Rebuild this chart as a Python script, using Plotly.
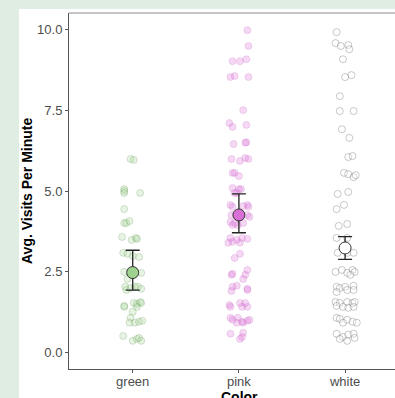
import plotly.graph_objects as go

categories = ["green", "pink", "white"]
fill_colors = ["#9fd28f", "#da70d6", "#ffffff"]

green_y = [5.99, 5.96, 5.06, 5.0, 4.94, 4.94, 4.44, 4.01, 4.01, 4.07, 3.58, 3.49, 3.55, 3.52,
           3.09, 3.06, 2.99, 2.96, 2.5, 2.47, 2.28, 2.04, 1.94, 2.0, 2.04, 2.04, 1.98, 1.45,
           1.42, 1.54, 1.51, 1.57, 1.54, 1.27, 1.42, 1.08, 0.93, 0.93, 0.96, 0.99, 0.52, 0.37,
           0.43, 0.46, 0.37]
green_jit = [-0.02, 0.01, -0.08, -0.08, -0.08, 0.07, -0.08, -0.08, -0.06, -0.03, -0.10, -0.01,
             0.03, 0.04, -0.09, -0.05, 0.00, 0.06, -0.08, 0.08, -0.05, -0.07, -0.06, -0.02, 0.02,
             0.05, 0.08, -0.08, -0.08, 0.01, 0.04, 0.07, 0.08, 0.00, 0.04, -0.02, -0.03, 0.02,
             0.06, 0.09, -0.09, 0.00, 0.04, 0.06, 0.08]

pink_y = [9.97, 9.48, 9.01, 9.01, 9.07, 8.52, 8.55, 8.52, 7.5, 7.10, 6.98, 7.04, 6.45, 6.51,
          6.49, 5.99, 5.93, 6.02, 5.99, 5.56, 5.56, 5.46, 5.09, 5.06, 5.06, 4.94, 4.94,
          4.57, 4.51, 4.57, 4.51, 4.54, 4.26, 4.26, 4.2, 4.04, 4.01, 3.95, 4.01, 3.95,
          3.55, 3.49, 3.55, 3.52, 3.43, 3.40, 3.40, 3.06, 2.93,
          2.41, 2.44, 2.56, 2.28, 2.41, 2.04, 2.07, 1.98, 1.94, 1.91,
          1.48, 1.42, 1.54, 1.42, 1.42, 1.54, 1.08, 1.02, 1.08, 0.96, 0.93, 0.99, 1.02, 0.93,
          0.59, 0.62, 0.49, 0.43]
pink_jit = [0.08, 0.09, -0.06, 0.01, 0.07, -0.08, -0.04, 0.09, 0.04, -0.09, -0.06, 0.07, -0.05, 0.07,
            0.06, -0.07, 0.01, 0.06, 0.09, -0.06, -0.04, 0.00, -0.06, 0.00, 0.02, -0.04, -0.02,
            -0.08, -0.06, 0.08, 0.09, 0.04, -0.07, 0.08, 0.10, -0.08, -0.04, -0.01, 0.04, -0.06,
            -0.08, -0.02, 0.03, 0.08, -0.06, 0.01, -0.10, 0.01, -0.04,
            -0.07, -0.06, 0.08, 0.04, 0.06, -0.06, -0.02, 0.08, 0.08, -0.07,
            -0.09, -0.08, 0.01, 0.03, 0.08, 0.06, -0.08, -0.06, -0.01, 0.03, 0.04, 0.08, 0.10, -0.02,
            -0.08, 0.04, 0.03, 0.01]

white_y = [9.91, 9.57, 9.48, 9.51, 9.38, 9.07, 8.52, 8.58, 7.93, 7.47, 7.47, 6.91, 6.64, 6.05,
           6.08, 5.56, 5.52, 5.43, 5.49, 4.91, 4.97, 4.57, 4.44, 3.92, 3.98,
           3.55, 3.55, 3.09, 3.09, 3.09, 2.5, 2.56, 2.47, 2.56, 2.5, 2.41,
           2.04, 2.0, 2.04, 2.07, 1.88, 1.94, 1.94,
           1.57, 1.54, 1.57, 1.54, 1.57, 1.45, 1.42, 1.39, 1.42,
           1.08, 1.05, 1.02, 0.96, 0.93, 0.93,
           0.59, 0.49, 0.56, 0.59, 0.43, 0.37, 0.46]
white_jit = [-0.08, -0.09, -0.04, 0.03, 0.04, -0.02, 0.00, 0.06, -0.05, -0.05, 0.08, -0.03, 0.04, 0.03,
             0.07, -0.01, 0.03, 0.08, 0.10, -0.07, 0.03, -0.01, -0.08, -0.06, 0.02,
             -0.08, 0.02, -0.07, 0.02, 0.08, -0.09, -0.03, 0.02, 0.07, 0.09, 0.05,
             -0.08, -0.05, 0.00, 0.08, -0.08, 0.02, 0.08,
             -0.09, -0.05, 0.02, 0.07, 0.09, -0.08, -0.02, 0.03, 0.08,
             -0.08, -0.05, 0.02, 0.07, 0.11, -0.02,
             -0.08, -0.02, 0.03, 0.08, -0.05, 0.02, 0.09]

means = [2.48, 4.26, 3.24]
ci_low = [1.94, 3.71, 2.89]
ci_high = [3.17, 4.91, 3.59]

y_ticks = [0.0, 2.5, 5.0, 7.5, 10.0]
y_tick_labels = ["0.0", "2.5", "5.0", "7.5", "10.0"]

point_fill = ["rgba(159,210,143,0.25)", "rgba(218,112,214,0.27)", "rgba(255,255,255,0.30)"]
point_line = ["rgba(80,130,70,0.22)", "rgba(190,80,185,0.18)", "rgba(60,60,60,0.28)"]

fig = go.Figure()
for i, (ys, js) in enumerate([(green_y, green_jit), (pink_y, pink_jit), (white_y, white_jit)]):
    fig.add_trace(go.Scatter(
        x=[i + j for j in js], y=ys, mode="markers",
        marker=dict(size=7, color=point_fill[i], line=dict(color=point_line[i], width=1)),
        showlegend=False, hoverinfo="y"))

fig.add_trace(go.Scatter(
    x=list(range(len(categories))), y=means, mode="markers",
    marker=dict(size=12, color=fill_colors, line=dict(color="#222222", width=0.9)),
    error_y=dict(type="data", symmetric=False,
                 array=[h - m for h, m in zip(ci_high, means)],
                 arrayminus=[m - l for m, l in zip(means, ci_low)],
                 color="#222222", thickness=1.3, width=7),
    showlegend=False))

fig.update_layout(
    width=395, height=398,
    margin=dict(l=69, r=0, t=13, b=29),
    paper_bgcolor="#dfede3", plot_bgcolor="#ffffff",
    font=dict(family="Liberation Sans, Arial, sans-serif"),
    shapes=[
        dict(type="rect", xref="paper", yref="paper", x0=-0.1534, x1=1.05, y0=-0.2, y1=1.0112,
             fillcolor="#ffffff", line=dict(width=0), layer="below"),
        dict(type="line", xref="paper", yref="paper", x0=0, x1=1.05, y0=1, y1=1,
             line=dict(color="#8a8a8a", width=1)),
    ],
    annotations=[
        dict(text="<b>Avg. Visits Per Minute</b>", xref="paper", yref="paper",
             x=(27 - 69) / 326, y=0.5, textangle=-90, showarrow=False,
             font=dict(size=14, color="#000000"), xanchor="center", yanchor="middle"),
        dict(text="<b>Color</b>", xref="paper", yref="paper",
             x=(239 - 69) / 326, y=(369 - 387) / 356, showarrow=False,
             font=dict(size=14, color="#000000"), xanchor="center", yanchor="top"),
    ],
)
fig.update_xaxes(range=[-0.6, 2.47], tickvals=list(range(len(categories))), ticktext=categories,
                 showgrid=False, zeroline=False, showline=True, linecolor="#555555", linewidth=1,
                 ticks="outside", ticklen=3, tickcolor="#555555", ticklabelstandoff=-3,
                 tickfont=dict(size=13, color="#4d4d4d"))
fig.update_yaxes(range=[-0.5, 10.5], tickvals=y_ticks, ticktext=y_tick_labels,
                 showgrid=False, zeroline=False, showline=True, linecolor="#555555", linewidth=1,
                 ticks="outside", ticklen=3, tickcolor="#555555",
                 tickfont=dict(size=13, color="#4d4d4d"))

fig.write_html("out.html", config={"displayModeBar": False},
               post_script="document.body.style.margin='0';document.body.style.overflow='hidden';")
